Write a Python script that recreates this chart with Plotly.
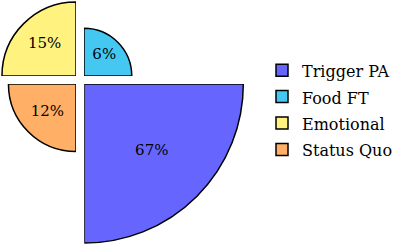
import math
import plotly.graph_objects as go

categories = ["Trigger PA", "Food FT", "Emotional", "Status Quo"]
values = [67, 6, 15, 12]
labels = ["67%", "6%", "15%", "12%"]
colors = ["#6666ff", "#44c8f2", "#fff27f", "#ffb066"]
sectors = [[270, 360], [0, 90], [90, 180], [180, 270]]

W, H = 400, 245
CX, CY, GAP = 80, 80, 4
K = 19.5      # pixels per sqrt-unit (area proportional to value)
PAD = 2
FONT = "DejaVu Serif"

fig = go.Figure()
layout_polars = {}
for i, (cat, v, lab, col, sec) in enumerate(zip(categories, values, labels, colors, sectors)):
    name = "polar" if i == 0 else f"polar{i+1}"
    r = math.sqrt(v)
    side = K * r + PAD
    mid = (sec[0] + sec[1]) / 2
    fig.add_trace(go.Barpolar(
        r=[r], theta=[mid], width=[90],
        name=f"<span style='font-size:16px'>{cat}</span>", subplot=name,
        marker=dict(color=col, line=dict(color="black", width=1.5)),
        showlegend=True,
    ))
    fig.add_trace(go.Scatterpolar(
        r=[0.6 * r], theta=[mid], mode="text", text=[lab], subplot=name,
        textfont=dict(family=FONT, size=15, color="black"),
        showlegend=False, hoverinfo="skip",
    ))
    right = sec[0] in (270, 0)
    top = sec[0] in (0, 90)
    if right:
        x0, x1 = CX + GAP, CX + GAP + side
    else:
        x0, x1 = CX - GAP - side, CX - GAP
    if top:
        y0, y1 = CY - GAP - side, CY - GAP
    else:
        y0, y1 = CY + GAP, CY + GAP + side
    dom_x = [max(0, x0 / W), min(1, x1 / W)]
    dom_y = [max(0, 1 - y1 / H), min(1, 1 - y0 / H)]
    layout_polars[name] = dict(
        domain=dict(x=dom_x, y=dom_y),
        sector=sec,
        bgcolor="rgba(0,0,0,0)",
        radialaxis=dict(visible=False, range=[0, side / K]),
        angularaxis=dict(visible=False),
        bargap=0,
    )

fig.update_layout(
    width=W, height=H,
    margin=dict(l=0, r=0, t=0, b=0),
    paper_bgcolor="white", plot_bgcolor="white",
    font=dict(family=FONT, size=15, color="black"),
    legend=dict(x=0.655, y=0.551, xanchor="left", yanchor="middle",
                font=dict(family=FONT, size=18), bgcolor="rgba(0,0,0,0)",
                tracegroupgap=0),
    **layout_polars,
)

fig.write_html("out.html")
